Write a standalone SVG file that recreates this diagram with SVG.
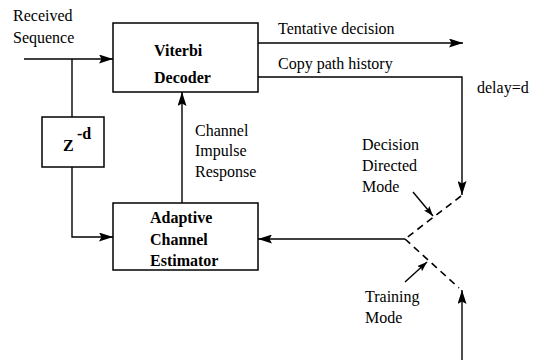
<svg xmlns="http://www.w3.org/2000/svg" width="539" height="360" viewBox="0 0 539 360">
  <defs>
    <marker id="arrow" viewBox="0 0 14 9" refX="14" refY="4.5" markerWidth="14" markerHeight="9" markerUnits="userSpaceOnUse" orient="auto">
      <path d="M0,0 L14,4.5 L0,9 L2.5,4.5 Z" fill="#000"/>
    </marker>
    <marker id="arrowS" viewBox="0 0 10 7" refX="10" refY="3.5" markerWidth="10" markerHeight="7" markerUnits="userSpaceOnUse" orient="auto">
      <path d="M0,0 L10,3.5 L0,7 L2,3.5 Z" fill="#000"/>
    </marker>
    <style>
      .box { fill: #fff; stroke: #000; stroke-width: 1.5; }
      .line { fill: none; stroke: #000; stroke-width: 1.4; }
      .dash { fill: none; stroke: #000; stroke-width: 1.6; stroke-dasharray: 7 5; }
      .lbl { font-family: "Liberation Serif", "Times New Roman", serif; font-size: 16px; fill: #000; }
      .blbl { font-family: "Liberation Serif", "Times New Roman", serif; font-size: 16px; font-weight: bold; fill: #000; }
    </style>
  </defs>
  <rect width="539" height="360" fill="#fff"/>

  <!-- connectors -->
  <g id="connectors">
    <path class="line" d="M24,59 H113" marker-end="url(#arrow)"/>
    <path class="line" d="M72,59 V117"/>
    <path class="line" d="M72,167 V237 H113" marker-end="url(#arrow)"/>
    <path class="line" d="M182,203 V92" marker-end="url(#arrow)"/>
    <path class="line" d="M258,43 H463" marker-end="url(#arrow)"/>
    <path class="line" d="M258,77 H462 V195" marker-end="url(#arrow)"/>
    <path class="line" d="M405,239 H258" marker-end="url(#arrow)"/>
    <path class="line" d="M462,360 V290" marker-end="url(#arrow)"/>
    <!-- switch positions -->
    <path class="dash" d="M461,196 L405,239"/>
    <path class="dash" d="M405,239 L459,288"/>
    <path class="line" d="M413,192 L433,216" marker-end="url(#arrowS)"/>
    <path class="line" d="M405,282 L427,262" marker-end="url(#arrowS)"/>
  </g>

  <g id="viterbi">
    <rect class="box" x="113" y="23" width="145" height="69"/>
    <text class="blbl" x="154" y="56">Viterbi</text>
    <text class="blbl" x="154" y="83">Decoder</text>
  </g>

  <g id="delay">
    <rect class="box" x="42" y="117" width="62" height="50"/>
    <text class="blbl" x="63" y="151" font-size="17">Z</text>
    <text class="blbl" x="77" y="139" font-size="12">-d</text>
  </g>

  <g id="estimator">
    <rect class="box" x="113" y="203" width="145" height="67"/>
    <text class="blbl" x="150" y="223">Adaptive</text>
    <text class="blbl" x="150" y="245">Channel</text>
    <text class="blbl" x="150" y="266">Estimator</text>
  </g>

  <g id="labels">
    <text class="lbl" x="13" y="21">Received</text>
    <text class="lbl" x="13" y="43">Sequence</text>
    <text class="lbl" x="278" y="34">Tentative decision</text>
    <text class="lbl" x="278" y="69">Copy path history</text>
    <text class="lbl" x="477" y="93">delay=d</text>
    <text class="lbl" x="195" y="136">Channel</text>
    <text class="lbl" x="195" y="156">Impulse</text>
    <text class="lbl" x="195" y="177">Response</text>
    <text class="lbl" x="362" y="150">Decision</text>
    <text class="lbl" x="362" y="171">Directed</text>
    <text class="lbl" x="362" y="192">Mode</text>
    <text class="lbl" x="365" y="302">Training</text>
    <text class="lbl" x="365" y="323">Mode</text>
  </g>
</svg>
